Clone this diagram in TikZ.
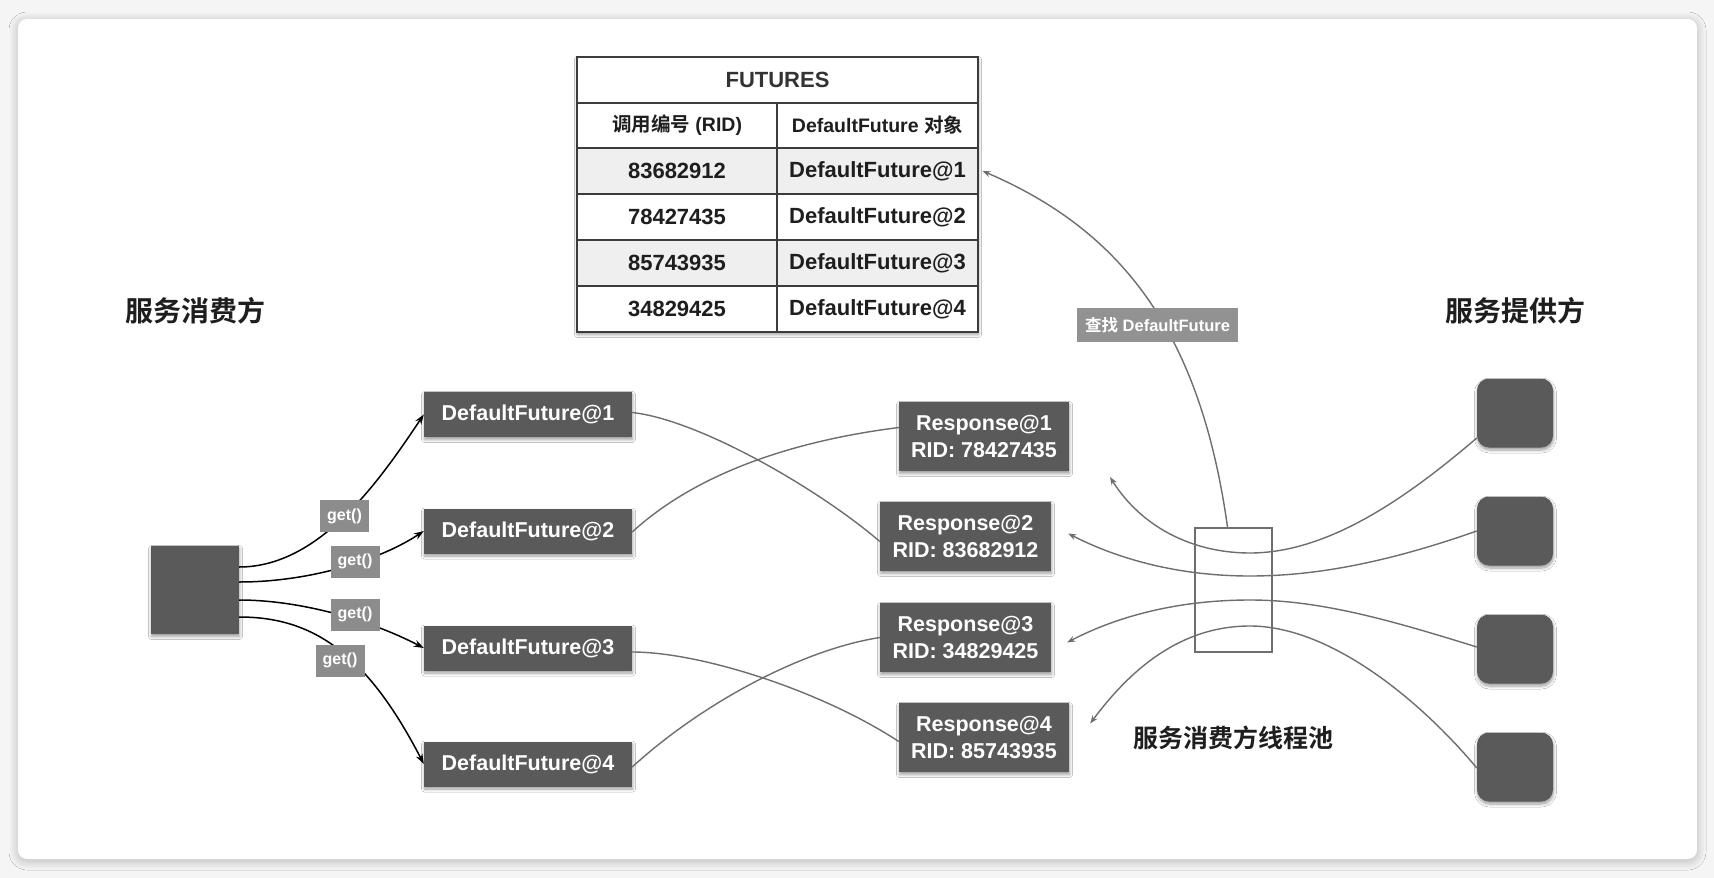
\documentclass[tikz,border=0pt]{standalone}
\usepackage{fontspec}
\setmainfont{Liberation Sans}
\newfontfamily\cjk{Noto Sans CJK SC}[BoldFont={Noto Sans CJK SC Bold}]
\usetikzlibrary{arrows.meta,shadows,shadows.blur,calc}
\definecolor{boxgray}{HTML}{5A5A5A}
\definecolor{lblgray}{HTML}{8C8C8C}
\definecolor{linegray}{HTML}{6E6E6E}
\definecolor{rowgray}{HTML}{EFEFEF}
\definecolor{tabline}{HTML}{3C3C3C}
\definecolor{bggray}{HTML}{F5F5F5}
\definecolor{txtdark}{HTML}{1E1E1E}
\begin{document}
\begin{tikzpicture}[x=1pt,y=-1pt,
  softshadow/.style={blur shadow={shadow xshift=0.5pt, shadow yshift=-2.5pt, shadow blur radius=3pt, shadow blur steps=6, shadow opacity=40}},
  darkbox/.style={fill=boxgray, text=white, font=\fontsize{21.5}{27}\selectfont\bfseries,
    inner sep=0pt, align=center, softshadow},
  provbox/.style={fill=boxgray, rounded corners=12pt, inner sep=0pt,
    minimum width=76pt, minimum height=69pt, softshadow},
  getlbl/.style={fill=lblgray, text=white, font=\fontsize{16}{16}\selectfont\bfseries,
    inner sep=0pt, minimum width=49pt, minimum height=32pt},
  cell/.style={draw=tabline, line width=1.2pt, inner sep=0pt, text=txtdark,
    font=\fontsize{22}{22}\selectfont\bfseries, minimum height=46pt},
  cellA/.style={cell, minimum width=200pt},
  cellB/.style={cell, minimum width=201pt},
  title/.style={text=txtdark, font=\fontsize{28}{28}\selectfont\cjk\bfseries, inner sep=0pt},
  getarrow/.style={draw=black, line width=1.5pt, -{Stealth[length=10pt,width=7pt]}},
  grayline/.style={draw=linegray, line width=1.4pt},
  grayarrow/.style={grayline, -{Stealth[length=8pt,width=6pt]}}
]
\useasboundingbox (0,0) rectangle (1714,878);
% background and card
\fill[bggray] (0,0) rectangle (1714,878);
\path[fill=white, rounded corners=9pt,
  blur shadow={shadow blur steps=12, shadow xshift=0pt, shadow yshift=-2pt, shadow blur radius=9pt, shadow opacity=25}]
  (18,19) rectangle (1697,859);

% ---- table ----
\path[fill=white, softshadow] (577,57) rectangle (978,332);
\node[cell, minimum width=401pt, fill=white, text=black!80] (thead) at (777.5,80) {FUTURES};
\node[cellA, fill=white, minimum height=45pt, font=\fontsize{19.5}{19.5}\selectfont\bfseries] (h1) at (677,125.5) {{\cjk\bfseries 调用编号} (RID)};
\node[cellB, fill=white, minimum height=45pt, font=\fontsize{19.5}{19.5}\selectfont\bfseries] (h2) at (877.5,125.5) {DefaultFuture {\cjk\bfseries 对象}};
\node[cellA, fill=rowgray] (a1) at (677,171) {83682912};
\node[cellB, fill=rowgray] (b1) at (877.5,171) {DefaultFuture@1};
\node[cellA, fill=white] (a2) at (677,217) {78427435};
\node[cellB, fill=white] (b2) at (877.5,217) {DefaultFuture@2};
\node[cellA, fill=rowgray] (a3) at (677,263) {85743935};
\node[cellB, fill=rowgray] (b3) at (877.5,263) {DefaultFuture@3};
\node[cellA, fill=white] (a4) at (677,309) {34829425};
\node[cellB, fill=white] (b4) at (877.5,309) {DefaultFuture@4};

% ---- titles ----
\node[title] (tcons) at (195,311) {服务消费方};
\node[title] (tprov) at (1515,311) {服务提供方};
\node[title, font=\fontsize{25}{25}\selectfont\cjk\bfseries] (tpool) at (1233,738) {服务消费方线程池};

% ---- consumer ----
\node[fill=boxgray, minimum width=88pt, minimum height=88pt, inner sep=0pt, softshadow] (cons) at (195,590) {};

% ---- futures ----
\node[darkbox, minimum width=208pt, minimum height=45pt] (df1) at (528,414.5) {DefaultFuture@1};
\node[darkbox, minimum width=208pt, minimum height=45pt] (df2) at (528,531) {DefaultFuture@2};
\node[darkbox, minimum width=208pt, minimum height=45pt] (df3) at (528,648) {DefaultFuture@3};
\node[darkbox, minimum width=208pt, minimum height=45pt] (df4) at (528,764) {DefaultFuture@4};

% ---- responses ----
\node[darkbox, minimum width=170pt, minimum height=69pt] (r1) at (984,436.5) {Response@1\\RID: 78427435};
\node[darkbox, minimum width=171pt, minimum height=69pt] (r2) at (965.5,536.5) {Response@2\\RID: 83682912};
\node[darkbox, minimum width=171pt, minimum height=69pt] (r3) at (965.5,637.5) {Response@3\\RID: 34829425};
\node[darkbox, minimum width=170pt, minimum height=69pt] (r4) at (984,737.5) {Response@4\\RID: 85743935};

% ---- providers ----
\node[provbox] (p1) at (1515,413) {};
\node[provbox] (p2) at (1515,531) {};
\node[provbox] (p3) at (1515,649) {};
\node[provbox] (p4) at (1515,767) {};

% ---- pool ----
\node[draw=linegray, line width=1.8pt, minimum width=77pt, minimum height=124pt, inner sep=0pt] (pool) at (1233.5,590) {};

% ---- get() arrows ----
\draw[getarrow] ([yshift=23pt]cons.east) .. controls (320,567) and (380,480) .. (df1.west);
\draw[getarrow] ([yshift=8pt]cons.east) .. controls (310,582) and (380,560) .. (df2.west);
\draw[getarrow] ([yshift=-10pt]cons.east) .. controls (300,600) and (370,620) .. (df3.west);
\draw[getarrow] ([yshift=-27pt]cons.east) .. controls (310,617) and (365,650) .. (df4.west);
\node[getlbl] (g1) at (344.5,516) {get()};
\node[getlbl] (g2) at (355,561.5) {get()};
\node[getlbl] (g3) at (355,614.5) {get()};
\node[getlbl] (g4) at (340,660.5) {get()};

% ---- crossing lines ----
\draw[grayline] ([yshift=2pt]df1.east) .. controls (700,420) and (820,490) .. ([yshift=-5pt]r2.west);
\draw[grayline] ([yshift=-1pt]df2.east) .. controls (700,470) and (800,440) .. ([yshift=9pt]r1.west);
\draw[grayline] ([yshift=-4pt]df3.east) .. controls (700,652) and (820,690) .. ([yshift=-4pt]r4.west);
\draw[grayline] ([yshift=-3pt]df4.east) .. controls (700,705) and (800,650) .. (r3.west);

% ---- provider responses ----
\coordinate (aend) at (1110,477);
\draw[grayarrow] ([yshift=-25pt]p1.west) .. controls (1410,495) and (1330,553) .. (1250,553)
   .. controls (1190,553) and (1140,525) .. (aend);
\draw[grayarrow] (p2.west) .. controls (1380,565) and (1310,576) .. (1250,576)
   .. controls (1170,576) and (1110,555) .. ([xshift=17pt,yshift=3pt]r2.east);
\draw[grayarrow] ([yshift=2pt]p3.west) .. controls (1390,620) and (1320,600) .. (1250,600)
   .. controls (1170,600) and (1110,620) .. ([xshift=16pt,yshift=-5pt]r3.east);
\draw[grayarrow] ([yshift=-1pt]p4.west) .. controls (1420,700) and (1330,626) .. (1250,626)
   .. controls (1180,626) and (1130,670) .. ([xshift=21pt,yshift=14pt]r4.east);

% ---- lookup ----
\draw[grayarrow] ([xshift=-6pt]pool.north) .. controls (1200,330) and (1120,230) .. ([xshift=4pt]b1.east);
\node[fill=lblgray!95!white, text=white, inner sep=0pt, minimum width=161pt, minimum height=34pt,
  font=\fontsize{16.5}{16.5}\selectfont\bfseries] (qlbl) at (1157.5,325) {{\cjk\bfseries 查找} DefaultFuture};
\end{tikzpicture}
\end{document}
